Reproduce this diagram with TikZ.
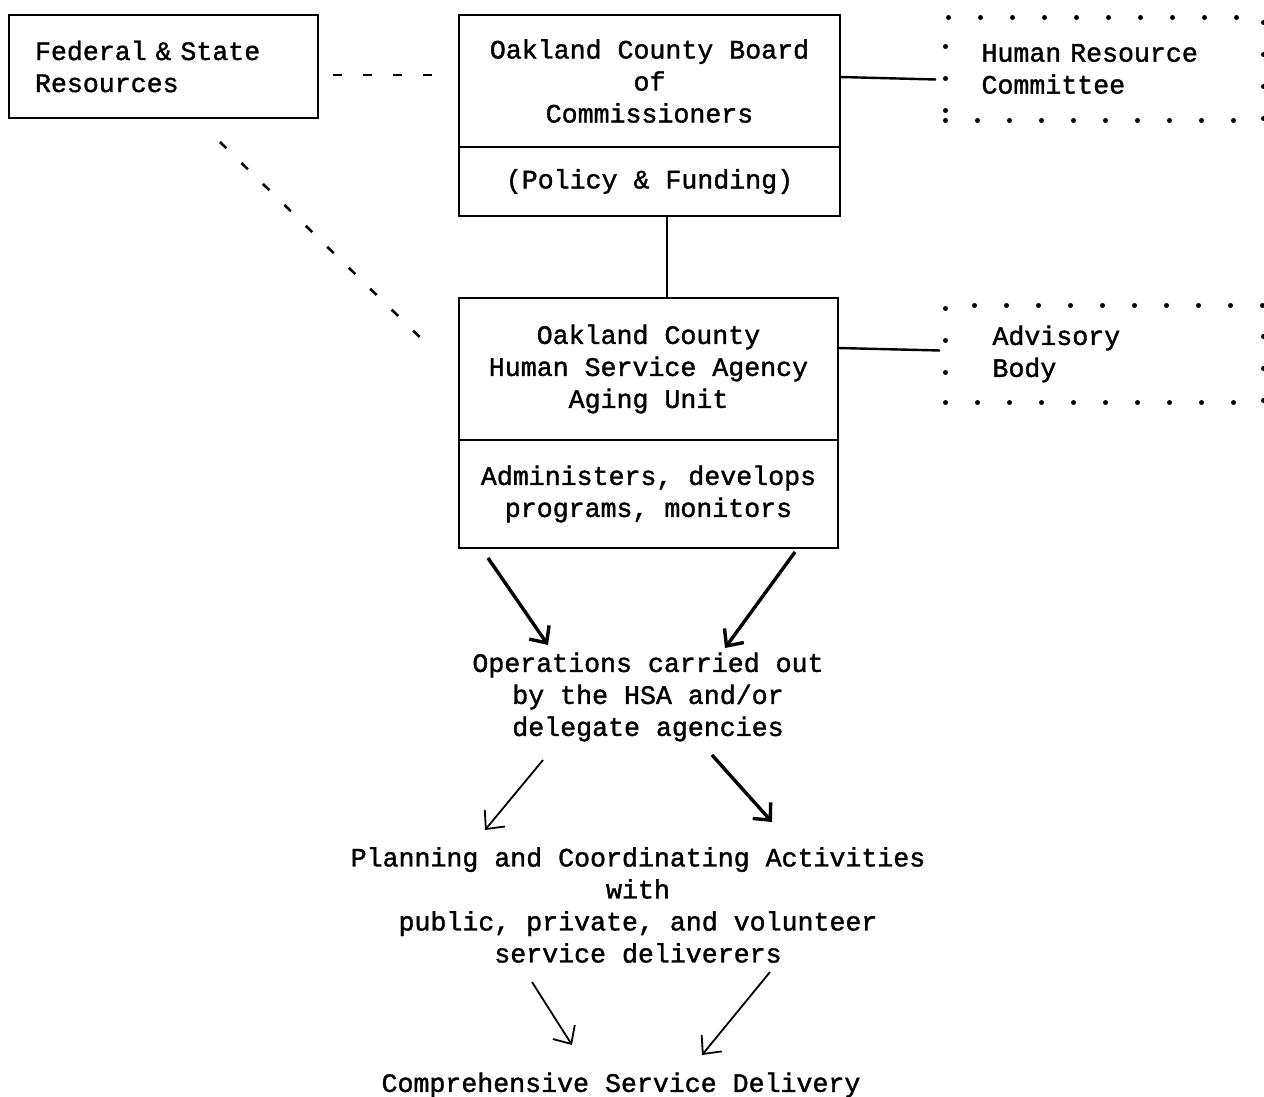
\documentclass[tikz,border=0pt]{standalone}
\usepackage{fontspec}
\setmonofont[FakeBold=1.4]{Liberation Mono}
\usetikzlibrary{arrows.meta,calc,positioning}
\newcommand{\orglab}{\ttfamily\fontsize{26.6}{32}\selectfont}
\tikzset{
    box/.style={
    rectangle,draw=black,line width=2.4pt,inner sep=0pt,outer sep=0pt,font=\orglab,align=center
    },
    dotbox/.style={
    rectangle,draw=black,line width=5pt,dash pattern=on 0pt off 32pt,line cap=round,
    inner ysep=0pt,font=\orglab,align=left
    },
    txt/.style={
    inner sep=0pt,font=\orglab,align=center
    },
    linkdash/.style={
    line width=2.6pt,dash pattern=on 9pt off 21pt
    },
    link/.style={
    line width=2.4pt
    },
    flow/.style={
    line width=3.4pt,-{Straight Barb[length=13pt,width=24pt]}
    },
    thinflow/.style={
    line width=1.8pt,-{Straight Barb[length=14pt,width=26pt]}
    },
}
\begin{document}
\begin{tikzpicture}[x=1pt,y=-1pt]
  \useasboundingbox (0,0) rectangle (1264,1097);
  % boxes
  \node[box,anchor=north west,minimum height=103pt,text width=257pt,inner xsep=26pt,align=left] (fed) at (9,15) {Federal \& State\\Resources};
  \node[box,anchor=north west,minimum width=381pt,minimum height=132pt] (board) at (459,15) {Oakland County Board\\of\\Commissioners};
  \node[box,below=0pt of board,minimum width=381pt,minimum height=69pt] (fund) {(Policy \& Funding)};
  \node[box,anchor=north west,minimum width=379pt,minimum height=142pt] (agency) at (459,298) {Oakland County\\Human Service Agency\\Aging Unit};
  \node[box,below=0pt of agency,minimum width=379pt,minimum height=108pt] (tasks) {Administers, develops\\programs, monitors};
  \node[dotbox,anchor=north west,minimum height=103pt,text width=246pt,inner xsep=36pt] (hrc) at (943,15) {Human Resource\\Committee};
  \node[dotbox,anchor=north west,minimum height=97pt,text width=224pt,inner xsep=47pt] (adv) at (943,303) {Advisory\\Body};
  % flow texts
  \node[txt] (ops) at (648,697) {Operations carried out\\by the HSA and/or\\delegate agencies};
  \node[txt] (plan) at (638,905) {Planning and Coordinating Activities\\with\\public, private, and volunteer\\service deliverers};
  \node[txt] (comp) at (621,1085) {Comprehensive Service Delivery};

  % connectors
  \draw[linkdash] ([shift={(15,8.5)}]fed.east) -- ([shift={(-16,-6)}]board.west);
  \draw[linkdash] ([shift={(56.5,24)}]fed.south) -- ([shift={(-26,-19)}]agency.west);
  \draw[link] ([shift={(0,-4)}]board.east) -- ([shift={(-7,10.5)}]hrc.west);
  \draw[link] ([shift={(17.5,0)}]fund.south) -- ([shift={(18.5,0)}]agency.north);
  \draw[link] ([shift={(0,-21)}]agency.east) -- ([shift={(-3,-3.5)}]adv.west);

  \draw[flow] ([shift={(-160.5,10)}]tasks.south) -- ([shift={(-100,-52)}]ops.center);
  \draw[flow] ([shift={(146.5,4)}]tasks.south) -- ([shift={(77,-49)}]ops.center);
  \draw[thinflow] ([shift={(-105,63)}]ops.center) -- ([shift={(-153,-75)}]plan.center);
  \draw[flow] ([shift={(64,58)}]ops.center) -- ([shift={(134,-83)}]plan.center);
  \draw[thinflow] ([shift={(-106,77)}]plan.center) -- ([shift={(-49,-40)}]comp.center);
  \draw[thinflow] ([shift={(132,67)}]plan.center) -- ([shift={(81,-30)}]comp.center);
\end{tikzpicture}
\end{document}
